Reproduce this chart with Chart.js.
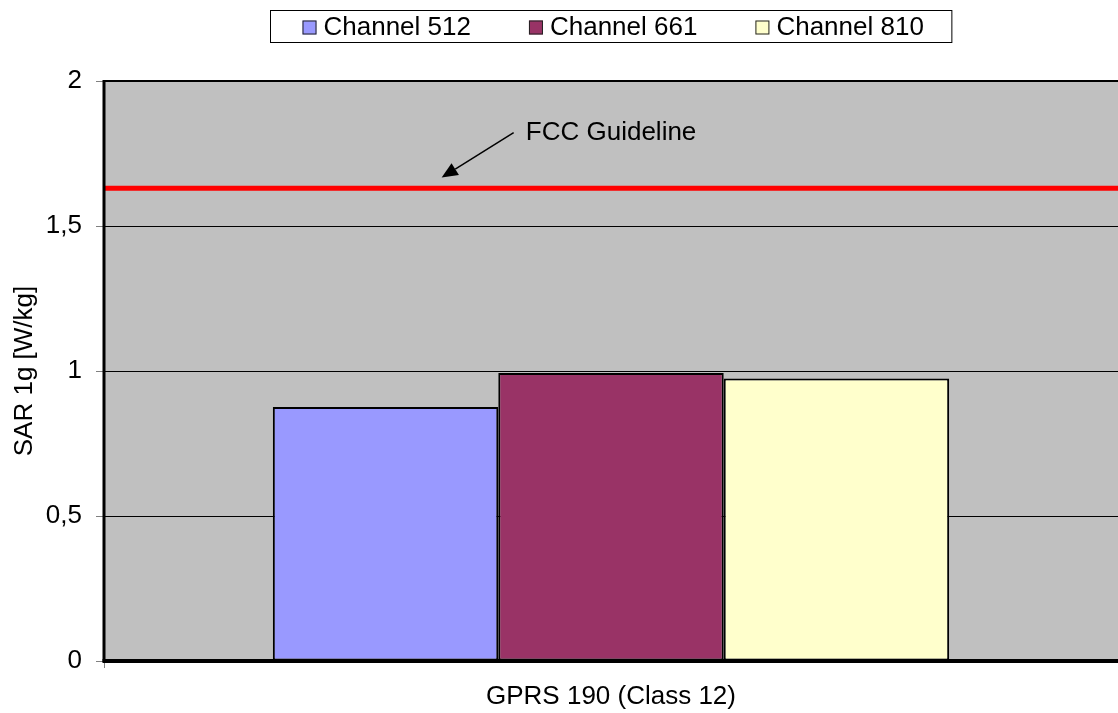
<!DOCTYPE html>
<html>
<head>
<meta charset="utf-8">
<script src="https://cdn.jsdelivr.net/npm/chart.js@4.4.1/dist/chart.umd.min.js"></script>
<style>
  html, body { margin: 0; padding: 0; background: #fff; }
  #wrap { width: 1118px; height: 713px; }
</style>
</head>
<body>
<div id="wrap"><canvas id="sarChart" width="1118" height="713"></canvas></div>
<script>
// chart data
const categories = ["GPRS 190 (Class 12)"];
const seriesNames = ["Channel 512", "Channel 661", "Channel 810"];
const channel512 = [0.876];
const channel661 = [0.993];
const channel810 = [0.974];
const seriesColors = ["#9999FF", "#993366", "#FFFFCC"];
const yTicks = [0, 0.5, 1, 1.5, 2];
const fccLimit = 1.63;
const fccLabel = "FCC Guideline";
const xTitle = "GPRS 190 (Class 12)";
const yTitle = "SAR 1g [W/kg]";

const FONT = '"Liberation Sans", Arial, sans-serif';

// grey plot background
const plotBackground = {
  id: "plotBackground",
  beforeDraw(chart) {
    const { ctx, chartArea: a } = chart;
    ctx.save();
    ctx.fillStyle = "#C0C0C0";
    ctx.fillRect(a.left, a.top, a.right - a.left, a.bottom - a.top);
    ctx.restore();
  },
};

// frame, FCC line and arrow
const overlay = {
  id: "overlay",
  afterDatasetsDraw(chart) {
    const { ctx, chartArea: a, scales } = chart;
    const y = scales.y;
    const w = a.right - a.left;

    ctx.save();
    // red guideline
    const ly = y.getPixelForValue(fccLimit);
    ctx.strokeStyle = "#FF0000";
    ctx.lineWidth = 5;
    ctx.beginPath();
    ctx.moveTo(a.left, ly);
    ctx.lineTo(a.right, ly);
    ctx.stroke();

    // arrow + label
    const fromX = a.left + w * 0.404, fromY = y.getPixelForValue(1.822);
    const tipX = a.left + w * 0.333, tipY = y.getPixelForValue(1.667);
    const ang = Math.atan2(tipY - fromY, tipX - fromX);
    const hl = 16, hw = 7;
    const bx = tipX - hl * Math.cos(ang), by = tipY - hl * Math.sin(ang);
    ctx.strokeStyle = "#000";
    ctx.lineWidth = 1.5;
    ctx.beginPath();
    ctx.moveTo(fromX, fromY);
    ctx.lineTo(bx, by);
    ctx.stroke();
    ctx.fillStyle = "#000";
    ctx.beginPath();
    ctx.moveTo(tipX, tipY);
    ctx.lineTo(bx + hw * Math.sin(ang), by - hw * Math.cos(ang));
    ctx.lineTo(bx - hw * Math.sin(ang), by + hw * Math.cos(ang));
    ctx.closePath();
    ctx.fill();

    ctx.font = "26px " + FONT;
    ctx.textAlign = "left";
    ctx.textBaseline = "middle";
    ctx.fillText(fccLabel, a.left + w * 0.416, y.getPixelForValue(1.822));

    // plot frame
    ctx.strokeStyle = "#000";
    ctx.lineWidth = 2;
    ctx.beginPath();
    ctx.moveTo(a.left, a.top);
    ctx.lineTo(a.right, a.top);
    ctx.stroke();
    ctx.lineWidth = 3;
    ctx.beginPath();
    ctx.moveTo(a.left, a.top - 1);
    ctx.lineTo(a.left, a.bottom + 1);
    ctx.stroke();
    ctx.lineWidth = 4;
    ctx.beginPath();
    ctx.moveTo(a.left - 1.5, a.bottom);
    ctx.lineTo(a.right, a.bottom);
    ctx.stroke();
    ctx.restore();
  },
};

// boxed legend at the top
const boxLegend = {
  id: "boxLegend",
  afterDraw(chart) {
    const { ctx, chartArea: a } = chart;
    const sw = 14, gapText = 7, gapItem = 58, pad = 30;
    ctx.save();
    ctx.font = "26px " + FONT;
    const items = chart.data.datasets.map((ds) => ({
      label: ds.label,
      color: ds.backgroundColor,
      w: sw + gapText + ctx.measureText(ds.label).width,
    }));
    const content = items.reduce((s, it) => s + it.w, 0) + gapItem * (items.length - 1);
    const boxW = content + pad * 2;
    const cx = (a.left + a.right) / 2;
    const boxL = Math.round(cx - boxW / 2) + 0.5;
    const boxT = 10.5, boxH = 32;
    ctx.fillStyle = "#fff";
    ctx.fillRect(boxL, boxT, boxW, boxH);
    ctx.strokeStyle = "#000";
    ctx.lineWidth = 1;
    ctx.strokeRect(boxL, boxT, boxW, boxH);

    let x = boxL + pad + 2;
    const cy = boxT + boxH / 2 + 1;
    items.forEach((it) => {
      ctx.fillStyle = it.color;
      ctx.fillRect(x, cy - sw / 2, sw, sw);
      ctx.strokeStyle = "#222";
      ctx.strokeRect(x + 0.5, cy - sw / 2 + 0.5, sw - 1, sw - 1);
      ctx.fillStyle = "#000";
      ctx.textAlign = "left";
      ctx.textBaseline = "middle";
      ctx.fillText(it.label, x + sw + gapText, cy);
      x += it.w + gapItem;
    });
    ctx.restore();
  },
};

function initChart() {
  const ctx = document.getElementById("sarChart").getContext("2d");
  const values = [channel512, channel661, channel810];
  new Chart(ctx, {
    type: "bar",
    data: {
      labels: categories,
      datasets: seriesNames.map((name, i) => ({
        label: name,
        data: values[i],
        backgroundColor: seriesColors[i],
        borderColor: "#000",
        borderWidth: 2,
        borderSkipped: false,
        categoryPercentage: 0.667,
        barPercentage: 1.0,
      })),
    },
    options: {
      responsive: false,
      animation: false,
      layout: { padding: { top: 81, left: 0, right: 0, bottom: 0 } },
      plugins: {
        legend: { display: false },
        tooltip: { enabled: false },
      },
      scales: {
        x: {
          grid: {
            display: true,
            drawOnChartArea: false,
            tickLength: 7,
            tickColor: "#808080",
          },
          border: { display: false },
          ticks: { display: false },
          title: {
            display: true,
            text: xTitle,
            color: "#000",
            font: { family: FONT, size: 26 },
            padding: { top: 0, bottom: 0.5 },
          },
          afterFit(s) { s.height = 52; },
        },
        y: {
          min: 0,
          max: 2,
          afterBuildTicks(s) { s.ticks = yTicks.map((v) => ({ value: v })); },
          grid: {
            color: "#000",
            lineWidth: 1,
            tickLength: 8,
            tickColor: "#808080",
          },
          border: { display: false },
          ticks: {
            color: "#000",
            padding: 14,
            font: { family: FONT, size: 26 },
            callback: (v) => String(v).replace(".", ","),
          },
          title: {
            display: true,
            text: yTitle,
            color: "#000",
            font: { family: FONT, size: 26 },
            padding: { top: 9.4, bottom: 0 },
          },
          afterFit(s) { s.width = 104; },
        },
      },
    },
    plugins: [plotBackground, overlay, boxLegend],
  });
}

document.addEventListener("DOMContentLoaded", initChart);
</script>
</body>
</html>
